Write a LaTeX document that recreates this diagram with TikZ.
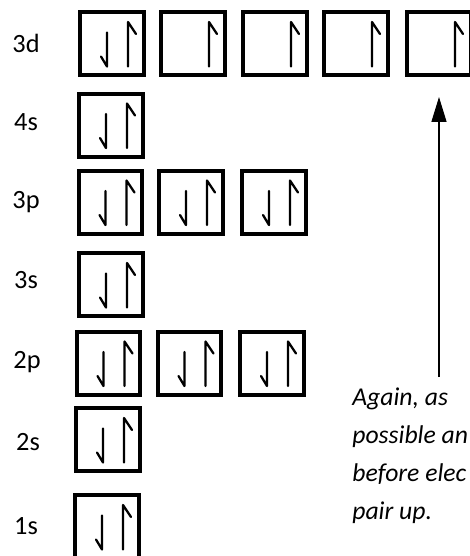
\documentclass[tikz,border=0pt]{standalone}
\usepackage{fontspec}
\setmainfont{Carlito}
\usetikzlibrary{arrows.meta}

\begin{document}
\begin{tikzpicture}[x=0.02cm, y=-0.02cm,
    orbital/.style={draw, line width=0.08cm, minimum width=1.28cm, minimum height=1.26cm, inner sep=0pt},
    shell/.style={inner sep=0pt, font=\fontsize{15}{18}\selectfont},
    note/.style={inner sep=0pt, anchor=base west, font=\fontsize{14.6}{18}\selectfont\itshape},
    spin/.style={line width=0.045cm, line cap=round, line join=round},
    spinup/.pic={\draw [spin] (16,23) -- (16,-21.5) -- (24,-9.5);},
    spindown/.pic={\draw [spin] (-5,-11) -- (-5,23) -- (-11,13);}]
    \useasboundingbox (0,0) rectangle (470,556);
    \clip (0,0) rectangle (470,556);

    % shell labels
    \node [shell] at (26, 43) (l3d) {3d};
    \node [shell] at (26, 122) (l4s) {4s};
    \node [shell] at (26, 202) (l3p) {3p};
    \node [shell] at (26, 280) (l3s) {3s};
    \node [shell] at (27, 362) (l2p) {2p};
    \node [shell] at (28, 442) (l2s) {2s};
    \node [shell] at (26, 526) (l1s) {1s};

    % orbital boxes
    \node [orbital] at (112, 43.5) (b3d1) {};
    \node [orbital] at (193, 43.5) (b3d2) {};
    \node [orbital] at (275, 43.5) (b3d3) {};
    \node [orbital] at (356, 43.5) (b3d4) {};
    \node [orbital] at (439, 43.5) (b3d5) {};
    \node [orbital] at (111, 125) (b4s) {};
    \node [orbital] at (110.5, 202) (b3p1) {};
    \node [orbital] at (191, 202) (b3p2) {};
    \node [orbital] at (274, 202) (b3p3) {};
    \node [orbital] at (111, 284.5) (b3s) {};
    \node [orbital] at (108.5, 363) (b2p1) {};
    \node [orbital] at (189.5, 363) (b2p2) {};
    \node [orbital] at (272, 363) (b2p3) {};
    \node [orbital] at (108, 439.5) (b2s) {};
    \node [orbital] at (107, 526.5) (b1s) {};

    % electrons
    \pic at (b3d1) {spindown}; \pic at (b3d1) {spinup};
    \pic at (b3d2) {spinup};
    \pic at (b3d3) {spinup};
    \pic at (b3d4) {spinup};
    \pic at (b3d5) {spinup};
    \pic at (b4s) {spindown}; \pic at (b4s) {spinup};
    \pic at (b3p1) {spindown}; \pic at (b3p1) {spinup};
    \pic at (b3p2) {spindown}; \pic at (b3p2) {spinup};
    \pic at (b3p3) {spindown}; \pic at (b3p3) {spinup};
    \pic at (b3s) {spindown}; \pic at (b3s) {spinup};
    \pic at (b2p1) {spindown}; \pic at (b2p1) {spinup};
    \pic at (b2p2) {spindown}; \pic at (b2p2) {spinup};
    \pic at (b2p3) {spindown}; \pic at (b2p3) {spinup};
    \pic at (b2s) {spindown}; \pic at (b2s) {spinup};
    \pic at (b1s) {spindown}; \pic at (b1s) {spinup};

    % pointer and note
    \coordinate (tail) at (439, 377);
    \draw [black, line width=0.03cm, -{Triangle[length=0.5cm, width=0.3cm]}, shorten >=0.4cm] (tail) -- (b3d5);
    \node [note] at (352, 405) (note1) {Again, as};
    \node [note] at (352, 443) (note2) {possible an};
    \node [note] at (352, 481) (note3) {before elec};
    \node [note] at (352, 519) (note4) {pair up.};
\end{tikzpicture}
\end{document}
